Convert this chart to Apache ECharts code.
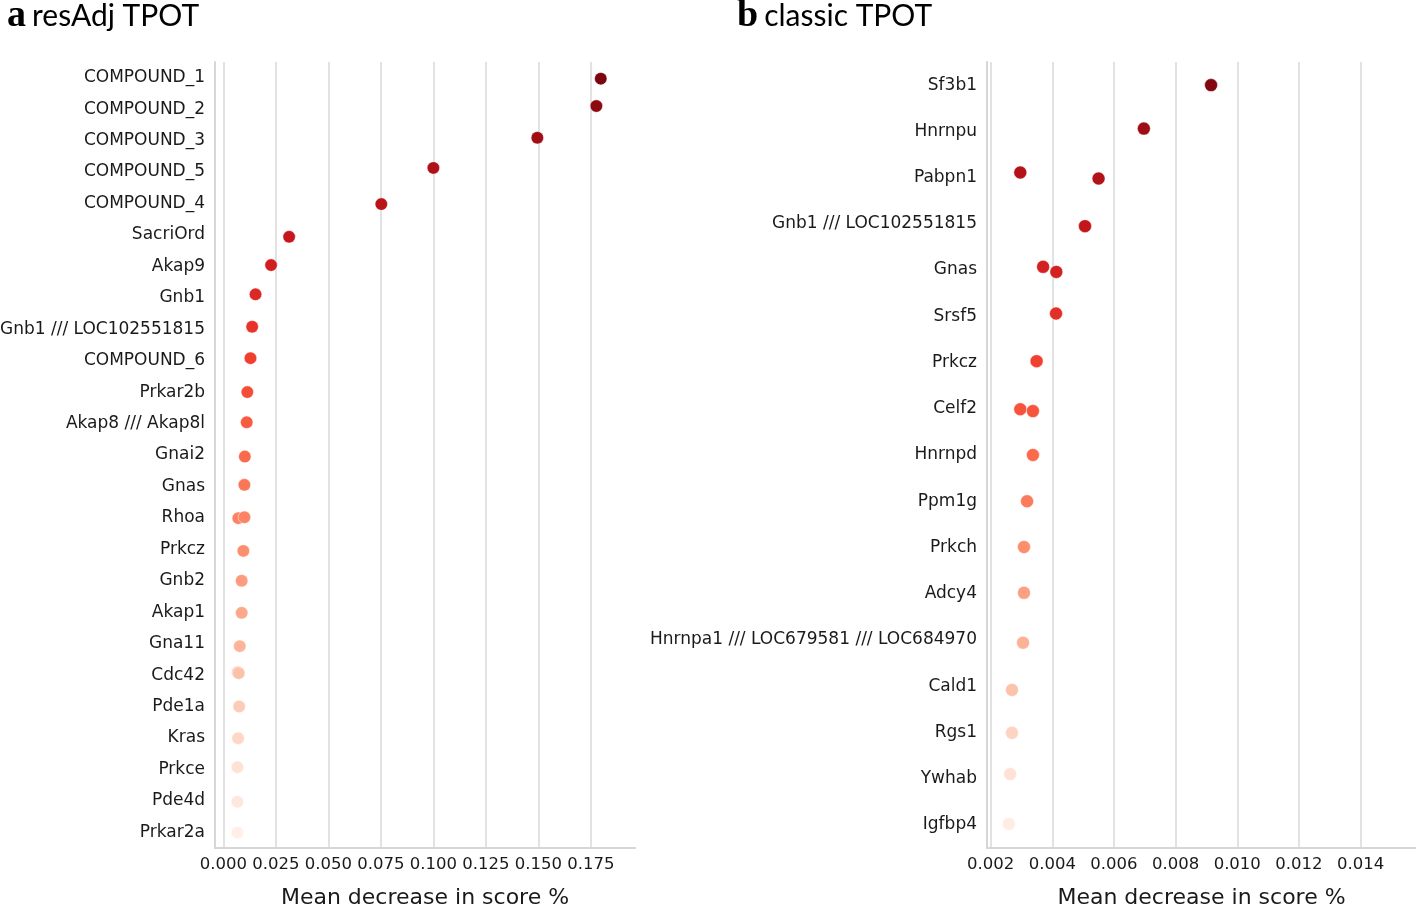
<!DOCTYPE html>
<html>
<head>
<meta charset="utf-8">
<script src="https://cdn.jsdelivr.net/npm/echarts@6/dist/echarts.min.js"></script>
<style>
html,body{margin:0;padding:0;background:#fff;}
#chart{width:1416px;height:906px;}
</style>
</head>
<body>
<div id="chart"></div>
<script>
// ---- Panel a: resAdj TPOT ----
const categoriesA = ["COMPOUND_1","COMPOUND_2","COMPOUND_3","COMPOUND_5","COMPOUND_4","SacriOrd","Akap9","Gnb1","Gnb1 /// LOC102551815","COMPOUND_6","Prkar2b","Akap8 /// Akap8l","Gnai2","Gnas","Rhoa","Prkcz","Gnb2","Akap1","Gna11","Cdc42","Pde1a","Kras","Prkce","Pde4d","Prkar2a"];
const valuesA = [[0.1797],[0.1776],[0.1495],[0.1000],[0.0752],[0.0313],[0.0227],[0.0153],[0.0137],[0.0129],[0.0114],[0.0111],[0.0102],[0.0100],[0.0071,0.0100],[0.0095],[0.0087],[0.0087],[0.0078],[0.0069,0.0073],[0.0075],[0.0070],[0.0067],[0.0067],[0.0067]];
const jitterA = [[0.03],[-0.10],[-0.09],[-0.13],[0.02],[0.06],[-0.04],[-0.11],[-0.08],[-0.08],[0.0],[-0.04],[0.05],[-0.05],[0.01,-0.02],[0.05],[0.0],[0.02],[0.08],[-0.09,-0.06],[0.0],[0.01],[-0.07],[0.03],[0.01]];
const ticksA = [0.000,0.025,0.050,0.075,0.100,0.125,0.150,0.175];

// ---- Panel b: classic TPOT ----
const categoriesB = ["Sf3b1","Hnrnpu","Pabpn1","Gnb1 /// LOC102551815","Gnas","Srsf5","Prkcz","Celf2","Hnrnpd","Ppm1g","Prkch","Adcy4","Hnrnpa1 /// LOC679581 /// LOC684970","Cald1","Rgs1","Ywhab","Igfbp4"];
const valuesB = [[0.00915],[0.00697],[0.00296,0.00550],[0.00506],[0.00370,0.00413],[0.00412],[0.00349],[0.00296,0.00337],[0.00337],[0.00318],[0.00308],[0.00308],[0.00305],[0.00269],[0.00269],[0.00263],[0.00259]];
const jitterB = [[0.0],[-0.06],[-0.11,0.02],[0.05],[-0.07,0.04],[-0.06],[-0.03],[0.01,0.05],[0.0],[0.0],[-0.01],[-0.02],[0.06],[0.08],[0.01],[-0.10],[-0.02]];
const ticksB = [0.002,0.004,0.006,0.008,0.010,0.012,0.014];

const titleA = ["a", "resAdj TPOT"];
const titleB = ["b", "classic TPOT"];
const xName = "Mean decrease in score %";

// Reds colormap (matplotlib / ColorBrewer)
const redsStops = ["#fff5f0","#fee0d2","#fcbba1","#fc9272","#fb6a4a","#ef3b2c","#cb181d","#a50f15","#67000d"];
function hex2rgb(h){return [parseInt(h.substr(1,2),16),parseInt(h.substr(3,2),16),parseInt(h.substr(5,2),16)];}
function reds(t){
  const p = t*(redsStops.length-1);
  const i = Math.min(Math.floor(p), redsStops.length-2);
  const f = p - i;
  const a = hex2rgb(redsStops[i]), b = hex2rgb(redsStops[i+1]);
  const c = a.map((v,k)=>Math.round(v+(b[k]-v)*f));
  return "rgb("+c.join(",")+")";
}
function paletteRedsR(n){
  const out=[];
  for(let k=0;k<n;k++){ const t = 1 - (k+1)/(n+1); out.push(reds(t)); }
  return out;
}
function buildData(vals, jit, n){
  const pal = paletteRedsR(n);
  const data=[];
  vals.forEach((arr,i)=>{
    arr.forEach((v,j)=>{
      data.push({value:[v, i + jit[i][j]], itemStyle:{color:pal[i]}});
    });
  });
  return data;
}

const tickFont = {fontFamily:"DejaVu Sans", fontSize:16.5, color:"#1a1a1a"};
const gridColor = "#e2e2e2";
const titleRich = {
  l:{fontFamily:"Liberation Serif", fontWeight:"bold", fontSize:38, color:"#000", padding:[0,6,0,0]},
  t:{fontFamily:"Lato", fontWeight:"normal", fontSize:30, color:"#000"}
};

const chart = echarts.init(document.getElementById('chart'), null, {renderer:'canvas'});
const option = {
  backgroundColor:"#fff",
  animation:false,
  title:[
    {text:"{l|"+titleA[0]+"}{t|"+titleA[1]+"}", left:2, top:-8, textStyle:{fontWeight:"normal", rich:titleRich}},
    {text:"{l|"+titleB[0]+"}{t|"+titleB[1]+"}", left:732, top:-8, textStyle:{fontWeight:"normal", rich:titleRich}}
  ],
  grid:[
    {left:215, right:1416-635, top:62, bottom:58, outerBoundsMode:'none', containLabel:false},
    {left:987, right:0, top:62, bottom:58, outerBoundsMode:'none', containLabel:false}
  ],
  xAxis:[
    {type:'value', gridIndex:0, min:-0.004, max:0.196,
     name:xName, nameLocation:'middle', nameGap:39,
     nameTextStyle:{fontFamily:"DejaVu Sans", fontSize:22, color:"#1a1a1a"},
     axisLine:{show:true, onZero:false, lineStyle:{color:"#d6d6d6", width:2}},
     axisTick:{show:false, customValues:ticksA},
     axisLabel:Object.assign({customValues:ticksA, margin:8, formatter:v=>v.toFixed(3)}, tickFont),
     splitLine:{show:true, lineStyle:{color:gridColor, width:2}}},
    {type:'value', gridIndex:1, min:0.00188, max:0.0158,
     name:xName, nameLocation:'middle', nameGap:39,
     nameTextStyle:{fontFamily:"DejaVu Sans", fontSize:22, color:"#1a1a1a"},
     axisLine:{show:true, onZero:false, lineStyle:{color:"#d6d6d6", width:2}},
     axisTick:{show:false, customValues:ticksB},
     axisLabel:Object.assign({customValues:ticksB, margin:8, formatter:v=>v.toFixed(3)}, tickFont),
     splitLine:{show:true, lineStyle:{color:gridColor, width:2}}}
  ],
  yAxis:[
    {type:'category', gridIndex:0, data:categoriesA, inverse:true,
     axisLine:{show:true, onZero:false, lineStyle:{color:"#d6d6d6", width:2}},
     axisTick:{show:false}, splitLine:{show:false},
     axisLabel:Object.assign({margin:10, interval:0}, tickFont, {fontSize:17})},
    {type:'value', gridIndex:0, min:-0.5, max:categoriesA.length-0.5, inverse:true, show:false, splitLine:{show:false}},
    {type:'category', gridIndex:1, data:categoriesB, inverse:true,
     axisLine:{show:true, onZero:false, lineStyle:{color:"#d6d6d6", width:2}},
     axisTick:{show:false}, splitLine:{show:false},
     axisLabel:Object.assign({margin:10, interval:0}, tickFont, {fontSize:17})},
    {type:'value', gridIndex:1, min:-0.5, max:categoriesB.length-0.5, inverse:true, show:false, splitLine:{show:false}}
  ],
  series:[
    {type:'scatter', xAxisIndex:0, yAxisIndex:1, symbolSize:12.5,
     itemStyle:{opacity:1, borderColor:"rgba(255,255,255,0.6)", borderWidth:0.8},
     data:buildData(valuesA, jitterA, categoriesA.length)},
    {type:'scatter', xAxisIndex:1, yAxisIndex:3, symbolSize:13,
     itemStyle:{opacity:1, borderColor:"rgba(255,255,255,0.6)", borderWidth:0.8},
     data:buildData(valuesB, jitterB, categoriesB.length)}
  ]
};
chart.setOption(option);
</script>
</body>
</html>
